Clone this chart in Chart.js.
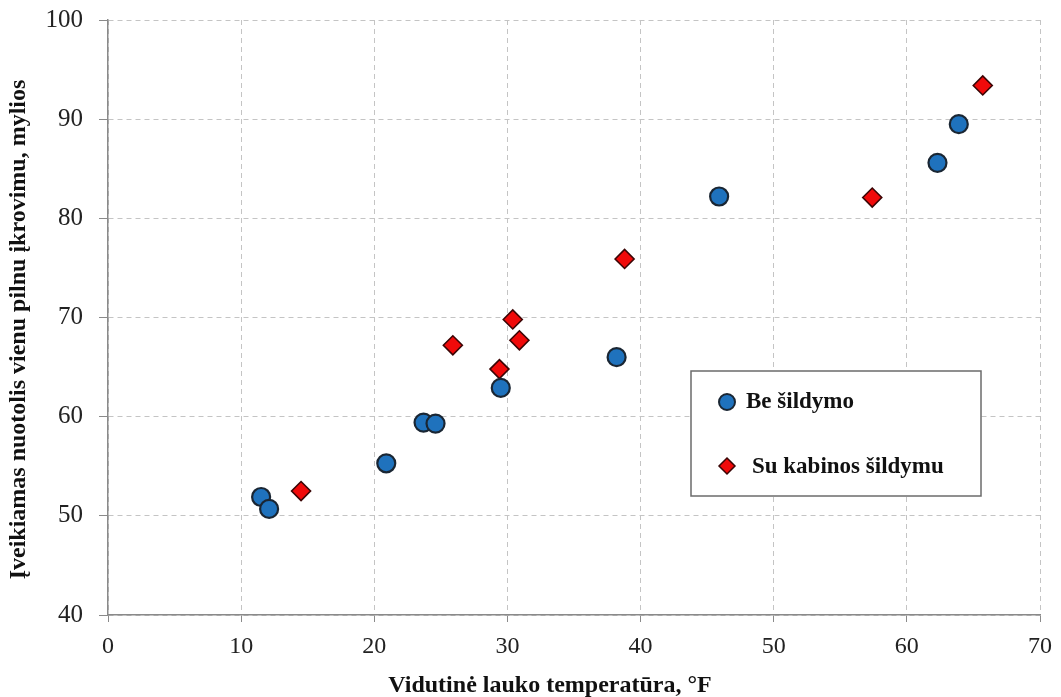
<!DOCTYPE html>
<html>
<head>
<meta charset="utf-8">
<script src="https://cdn.jsdelivr.net/npm/chart.js@4.4.1/dist/chart.umd.min.js"></script>
<style>
  html, body { margin: 0; padding: 0; background: #fff; }
  #wrap { width: 1061px; height: 697px; position: relative; }
</style>
</head>
<body>
<div id="wrap"><canvas id="rangeChart"></canvas></div>
<script>
// Be šildymo (no heating)
var noHeatX = [11.5, 12.1, 20.9, 23.7, 24.6, 29.5, 38.2, 45.9, 62.3, 63.9];
var noHeatY = [51.9, 50.7, 55.3, 59.4, 59.3, 62.9, 66.0, 82.2, 85.6, 89.5];
// Su kabinos šildymu (cabin heating)
var heatX = [14.5, 25.9, 29.4, 30.4, 30.9, 38.8, 57.4, 65.7];
var heatY = [52.5, 67.2, 64.8, 69.8, 67.7, 75.9, 82.1, 93.4];

var xTicks = [0, 10, 20, 30, 40, 50, 60, 70];
var yTicks = [40, 50, 60, 70, 80, 90, 100];

var seriesNames = ["Be šildymo", "Su kabinos šildymu"];

function toPoints(xs, ys) {
  return xs.map(function (x, i) { return { x: x, y: ys[i] }; });
}

var blue = "#1f72bd";
var red = "#f00a0a";

// legend box drawn inside the plot, like the original
var boxLegend = {
  id: "boxLegend",
  afterDraw: function (chart) {
    var ctx = chart.ctx;
    ctx.save();
    ctx.strokeStyle = "#6b6b6b";
    ctx.lineWidth = 1.5;
    ctx.fillStyle = "#fff";
    ctx.fillRect(691, 371, 290, 125);
    ctx.strokeRect(691, 371, 290, 125);

    // circle marker
    ctx.beginPath();
    ctx.arc(727, 402, 8, 0, Math.PI * 2);
    ctx.fillStyle = blue;
    ctx.fill();
    ctx.lineWidth = 2;
    ctx.strokeStyle = "#1a2633";
    ctx.stroke();

    // diamond marker
    ctx.beginPath();
    ctx.moveTo(727, 458);
    ctx.lineTo(735, 466);
    ctx.lineTo(727, 474);
    ctx.lineTo(719, 466);
    ctx.closePath();
    ctx.fillStyle = red;
    ctx.fill();
    ctx.lineWidth = 1.5;
    ctx.strokeStyle = "#3a0505";
    ctx.stroke();

    ctx.fillStyle = "#111";
    ctx.font = "bold 23px 'Liberation Serif'";
    ctx.textBaseline = "middle";
    ctx.fillText(seriesNames[0], 746, 402);
    ctx.fillText(seriesNames[1], 752, 467);
    ctx.restore();
  }
};

var ctx = document.getElementById("rangeChart").getContext("2d");

var rangeChart = new Chart(ctx, {
  type: "scatter",
  data: {
    datasets: [
      {
        label: seriesNames[0],
        data: toPoints(noHeatX, noHeatY),
        pointStyle: "circle",
        pointRadius: 9,
        pointHoverRadius: 9,
        backgroundColor: blue,
        borderColor: "#1a2633",
        borderWidth: 2.2,
      },
      {
        label: seriesNames[1],
        data: toPoints(heatX, heatY),
        pointStyle: "rectRot",
        pointRadius: 9.5,
        pointHoverRadius: 9.5,
        backgroundColor: red,
        borderColor: "#3a0505",
        borderWidth: 1.6,
      },
    ],
  },
  options: {
    responsive: true,
    maintainAspectRatio: false,
    animation: false,
    layout: { padding: { top: 20, right: 21, left: 0, bottom: 0 } },
    plugins: {
      legend: { display: false },
      tooltip: { enabled: false },
    },
    scales: {
      x: {
        type: "linear",
        min: 0,
        max: 70,
        afterBuildTicks: function (s) {
          s.ticks = xTicks.map(function (v) { return { value: v }; });
        },
        afterFit: function (s) {
          s.height = 82;
          s.paddingLeft = 0;
          s.paddingRight = 0;
        },
        grid: {
          color: "#c4c4c4",
          lineWidth: 1,
          tickLength: 7,
          tickColor: "#8a8a8a",
        },
        border: { display: true, color: "#8a8a8a", width: 1.5, dash: [5, 4] },
        ticks: {
          color: "#222",
          padding: 10,
          font: { family: "'Liberation Serif'", size: 24 },
        },
        title: {
          display: true,
          text: "Vidutinė lauko temperatūra, °F\u2003\u2003",
          color: "#111",
          padding: { top: 0, bottom: 0 },
          font: { family: "'Liberation Serif'", size: 24, weight: "bold", lineHeight: 0.95 },
        },
      },
      y: {
        type: "linear",
        min: 40,
        max: 100,
        afterBuildTicks: function (s) {
          s.ticks = yTicks.map(function (v) { return { value: v }; });
        },
        afterFit: function (s) {
          s.width = 108;
          s.paddingTop = 0;
          s.paddingBottom = 0;
        },
        grid: {
          color: "#c4c4c4",
          lineWidth: 1,
          tickLength: 9,
          tickColor: "#8a8a8a",
        },
        border: { display: true, color: "#8a8a8a", width: 1.5, dash: [5, 4] },
        ticks: {
          color: "#222",
          padding: 16,
          font: { family: "'Liberation Serif'", size: 25 },
        },
        title: {
          display: true,
          text: "Įveikiamas nuotolis vienu pilnu įkrovimu, mylios\u2003",
          color: "#111",
          padding: { top: 4, bottom: 0 },
          font: { family: "'Liberation Serif'", size: 24, weight: "bold" },
        },
      },
    },
  },
  plugins: [boxLegend],
});
</script>
</body>
</html>
